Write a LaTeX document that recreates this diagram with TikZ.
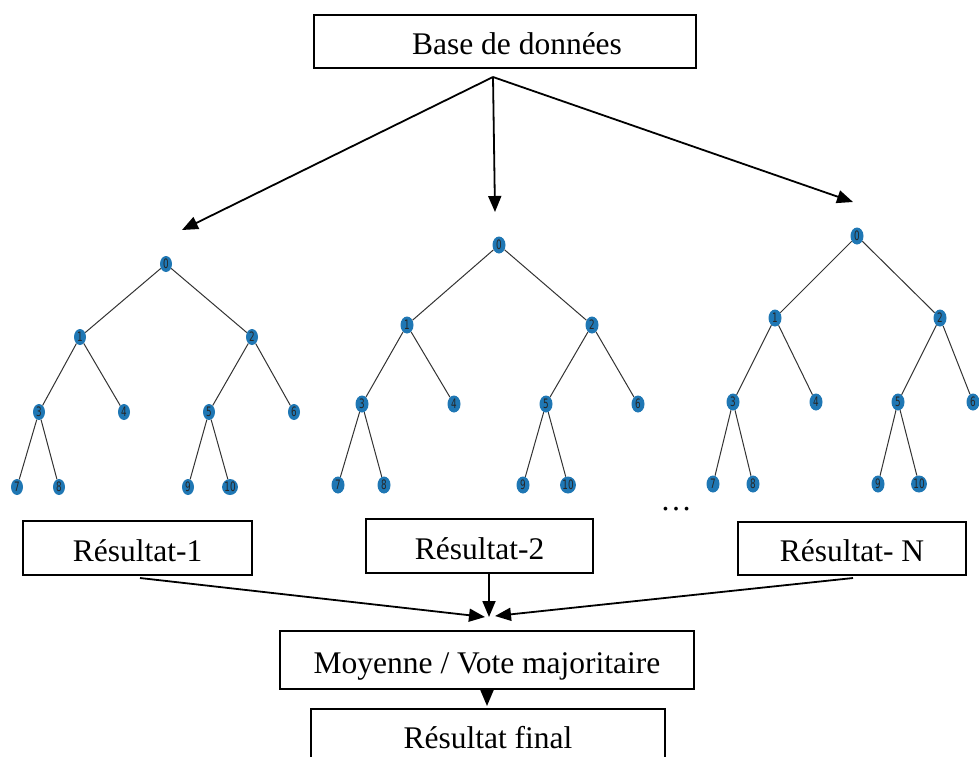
\documentclass[tikz,border=0pt]{standalone}
\usepackage{fontspec}
\setmainfont{Liberation Serif}
\newfontfamily\labfont{DejaVu Sans}
\usetikzlibrary{arrows.meta,shapes.geometric}
\definecolor{nodeblue}{HTML}{1F77B4}
\newcommand\lbl[1]{\scalebox{0.68}[1]{#1}}
\begin{document}
\begin{tikzpicture}[x=1pt,y=-1pt,
  box/.style={draw=black, line width=1.8pt, inner sep=0pt, font=\fontsize{31.5}{36}\selectfont, text height=26pt, text depth=0pt},
  arr/.style={line width=1.8pt, -{Triangle[length=16pt,width=13pt]}},
  tn/.style={ellipse, fill=nodeblue, inner sep=0pt, minimum width=13pt, minimum height=17pt, font=\labfont\fontsize{13}{13}\selectfont, text=black!85},
  tns/.style={tn, minimum width=12pt, minimum height=16pt},
  tedge/.style={draw=black!80, line width=1pt}]
\useasboundingbox (0,0) rectangle (979,756);

% top box and arrows
\node[box, minimum width=382pt, minimum height=53pt] (db) at (505,41.5) {\hspace*{24pt}Base de données};
\coordinate (apex) at (493,77);
\coordinate (t1) at (182,230);
\coordinate (t2) at (495,212);
\coordinate (t3) at (853,202);
\draw[arr] (apex) -- (t1);
\draw[arr] (apex) -- (t2);
\draw[arr] (apex) -- (t3);

% tree 1
\foreach \i/\x/\y in {0/166/264, 1/80/337, 2/252/337, 3/39/412, 4/124/412, 5/209/412, 6/294/412, 7/17/487, 8/59/487, 9/188/487, 10/230/487}
  \node[tns] (a\i) at (\x,\y) {\lbl{\i}};
% tree 2
\foreach \i/\x/\y in {0/499/245, 1/407/325, 2/592/325, 3/362/404, 4/454/404, 5/546/404, 6/638/404, 7/338/485, 8/384/485, 9/523/485, 10/568/485}
  \node[tn] (b\i) at (\x,\y) {\lbl{\i}};
% tree 3
\foreach \i/\x/\y in {0/857/236, 1/775/318, 2/940/318, 3/733/402, 4/816/402, 5/898/402, 6/973/402, 7/713/484, 8/753/484, 9/878/484, 10/919/484}
  \node[tn] (c\i) at (\x,\y) {\lbl{\i}};
\foreach \t in {a,b,c}
  \foreach \p/\c in {0/1,0/2,1/3,1/4,2/5,2/6,3/7,3/8,5/9,5/10}
    \draw[tedge] (\t\p) -- (\t\c);

% dots
\node[anchor=base, inner sep=0pt, font=\fontsize{31.5}{36}\selectfont] (dots) at (676,510) {…};

% result boxes
\node[box, minimum width=229pt, minimum height=54pt] (r1) at (137.5,548) {Résultat-1};
\node[box, minimum width=227pt, minimum height=54pt] (r2) at (479.5,546) {Résultat-2};
\node[box, minimum width=228pt, minimum height=53pt] (rN) at (852,548.5) {Résultat- N};

\coordinate (s1) at (140,578);
\coordinate (sN) at (853,578);
\coordinate (m1) at (485,617);
\coordinate (m2) at (489,617);
\coordinate (mN) at (495,616);
\draw[arr] (s1) -- (m1);
\draw[arr] (m2 |- r2.south) -- (m2);
\draw[arr] (sN) -- (mN);

\node[box, minimum width=414pt, minimum height=58pt] (moy) at (487,660) {Moyenne / Vote majoritaire};
\node[box, minimum width=354pt, minimum height=52pt] (fin) at (488,735) {Résultat final};
\coordinate (mf) at (487,706);
\draw[arr] (moy.south) -- (mf);
\end{tikzpicture}
\end{document}
